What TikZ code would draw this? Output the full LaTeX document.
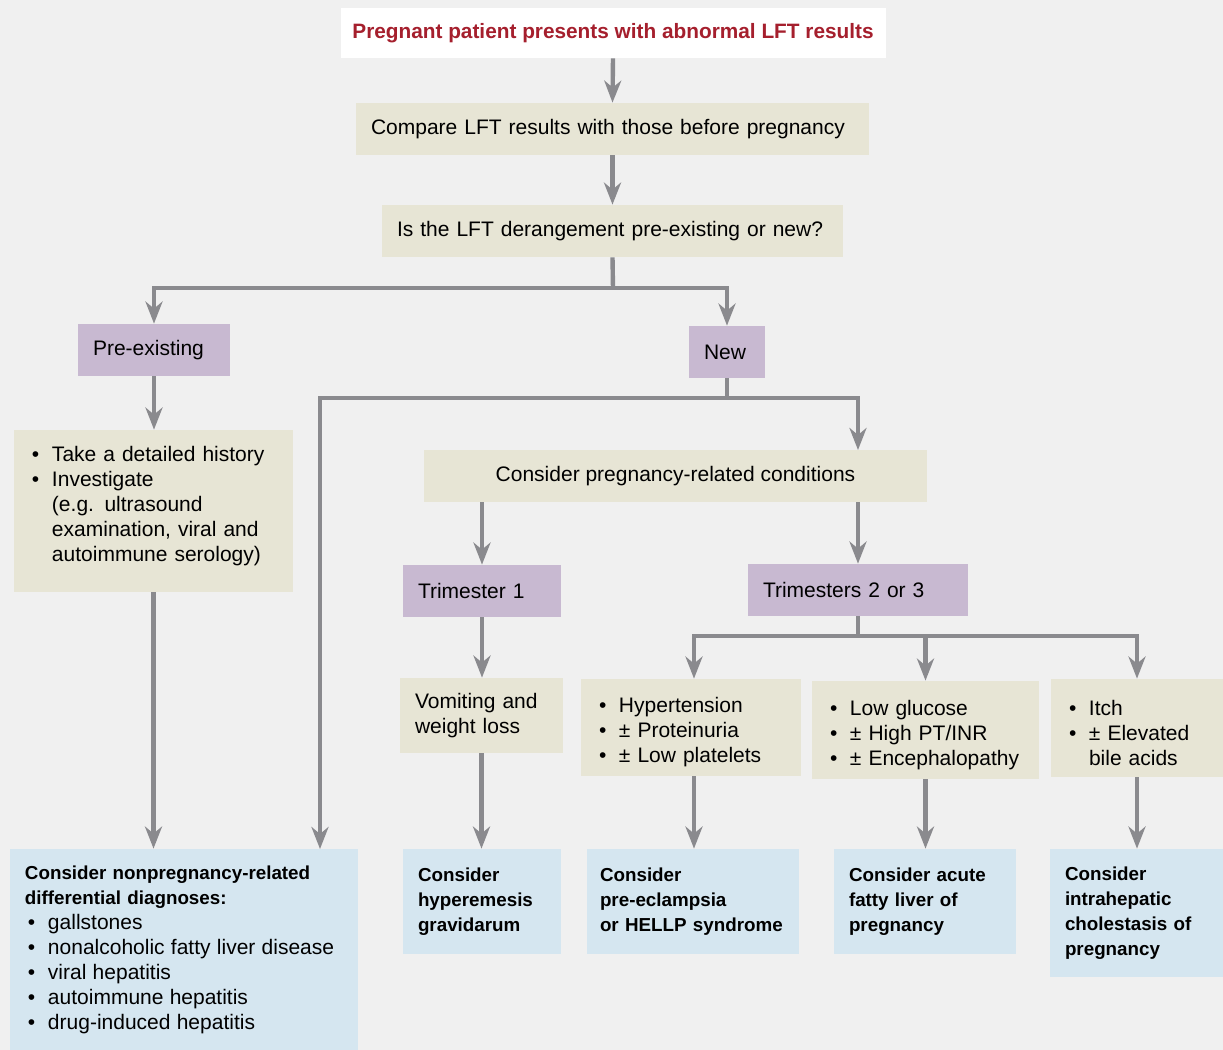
\documentclass[tikz,border=0pt]{standalone}
\usepackage{fontspec}
\setmainfont{Liberation Sans}
\usetikzlibrary{arrows.meta}

\definecolor{bgcol}{HTML}{F0F0F0}
\definecolor{tancol}{HTML}{E7E5D5}
\definecolor{lilaccol}{HTML}{C8B9D1}
\definecolor{bluecol}{HTML}{D5E6F0}
\definecolor{titlered}{HTML}{A51F2D}
\definecolor{linecol}{HTML}{8A8A8E}

\hyphenpenalty=10000
\exhyphenpenalty=10000
\newcommand{\bitem}{\par\hangindent=11.5pt\hangafter=1\noindent\makebox[11.5pt][l]{\hspace{1.5pt}\textbullet}}
\newcommand{\boldtxt}{\fontsize{9.4}{12.5}\selectfont\bfseries}
\newcommand{\plaintxt}{\fontsize{10.5}{12.5}\selectfont\mdseries}

\begin{document}
\begin{tikzpicture}[
                          x=0.5pt, y=-0.5pt,
                          box/.style={rectangle, inner xsep=7.5pt, inner ysep=0pt, align=left, font=\plaintxt},
                          tanbox/.style={box, fill=tancol},
                          lilacbox/.style={box, fill=lilaccol},
                          bluebox/.style={box, fill=bluecol, font=\boldtxt},
                          line/.style={draw=linecol, line width=2.2pt},
                          arrow/.style={line, -{Stealth[length=11pt, width=8.5pt, inset=3.5pt]}},
                      ]
                      \fill[bgcol] (0,0) rectangle (1223,1050);

                      % Nodes
                      \node[box, fill=white, inner xsep=0pt, minimum width=272.5pt, minimum height=25pt, align=center,
                            text=titlered, font=\fontsize{10.4}{12.5}\selectfont\bfseries]
                                                  (start)     at (613,33)       {Pregnant patient presents with abnormal LFT results};
                      \node[tanbox, text width=241.5pt, minimum height=26pt]   (compare)   at (612.5,129)    {Compare LFT results with those before pregnancy};
                      \node[tanbox, text width=215.5pt, minimum height=26pt]   (question)  at (612.5,231)    {Is the LFT derangement pre-existing or new?};

                      \node[lilacbox, text width=61pt, minimum height=26pt]    (preex)     at (154,350)      {Pre-existing};
                      \node[lilacbox, text width=23pt, minimum height=26pt]    (new)       at (727,352)      {New};

                      \node[tanbox, text width=124.5pt, minimum height=81pt]   (history)   at (153.5,511)    {\bitem Take a detailed history\bitem Investigate\newline(e.g. ultrasound\newline examination, viral and\newline autoimmune serology)\rule[-12pt]{0pt}{1pt}\par};
                      \node[tanbox, minimum width=251.5pt, minimum height=26pt, align=center]
                                                  (pregcond)  at (675.5,476)    {Consider pregnancy-related conditions};

                      \node[lilacbox, text width=64pt, minimum height=26pt]    (trim1)     at (482,591)      {Trimester 1};
                      \node[lilacbox, text width=95pt, minimum height=26pt]    (trim23)    at (858,590)      {Trimesters 2 or 3};

                      \node[tanbox, text width=66.5pt, minimum height=37.5pt]  (vomit)     at (481.5,715.5)  {Vomiting and\\weight loss};
                      \node[tanbox, text width=95pt, minimum height=48.5pt]    (hyper)     at (691,727.5)    {\bitem Hypertension\bitem ± Proteinuria\bitem ± Low platelets\par};
                      \node[tanbox, text width=98.5pt, minimum height=49pt]    (glucose)   at (925.5,730)    {\bitem Low glucose\bitem ± High PT/INR\bitem ± Encephalopathy\par};
                      \node[tanbox, text width=71pt, minimum height=49pt]      (itch)      at (1137,728)     {\bitem Itch\bitem ± Elevated\newline bile acids\par};

                      \node[bluebox, text width=159pt, minimum height=100.5pt] (nonpreg)   at (184,949.5)    {Consider nonpregnancy-related\\differential diagnoses:\plaintxt\bitem gallstones\bitem nonalcoholic fatty liver disease\bitem viral hepatitis\bitem autoimmune hepatitis\bitem drug-induced hepatitis\par};
                      \node[bluebox, text width=64pt, minimum height=52.5pt]   (hyperem)   at (482,901.5)    {Consider\\hyperemesis\\gravidarum};
                      \node[bluebox, inner xsep=6.5pt, text width=93pt, minimum height=52.5pt]
                                                  (preecl)    at (693,901.5)    {Consider\\pre-eclampsia\\or HELLP syndrome};
                      \node[bluebox, text width=76pt, minimum height=52.5pt]   (afl)       at (925,901.5)    {Consider acute\\fatty liver of\\pregnancy};
                      \node[bluebox, text width=71.5pt, minimum height=64pt]   (ich)       at (1136.5,913)   {Consider\\intrahepatic\\cholestasis of\\pregnancy};

                      % Junctions
                      \coordinate (split1)    at (613,288);
                      \coordinate (split2)    at (727,398);
                      \coordinate (split3)    at (858,636);
                      \coordinate (nonpregin) at (320,849);
                      \coordinate (pregin)    at (858,450);

                      %Lines
                      \draw[arrow] (start.south) -- (compare.north);
                      \draw[arrow] (compare.south) -- (question.north);
                      \draw[line] (question.south) -- (split1);
                      \draw[arrow] (split1) -| (preex.north);
                      \draw[arrow] (split1) -| (new.north);
                      \draw[arrow] (preex.south) -- (history.north -| preex.south);
                      \draw[arrow] (history.south) -- (history.south |- nonpreg.north);
                      \draw[line] (new.south) -- (split2);
                      \draw[arrow] (split2) -| (nonpregin);
                      \draw[arrow] (split2) -| (pregin);
                      \draw[arrow] (trim1.north |- pregcond.south) -- (trim1.north);
                      \draw[arrow] (trim23.north |- pregcond.south) -- (trim23.north);
                      \draw[arrow] (trim1.south) -- (trim1.south |- vomit.north);
                      \draw[line] (trim23.south) -- (split3);
                      \draw[arrow] (split3) -| ([xshift=1.5pt]hyper.north);
                      \draw[arrow] (split3) -| (glucose.north);
                      \draw[arrow] (split3) -| (itch.north);
                      \draw[arrow] (vomit.south) -- (vomit.south |- hyperem.north);
                      \draw[arrow] ([xshift=1.5pt]hyper.south) -- ([xshift=1.5pt]hyper.south |- preecl.north);
                      \draw[arrow] (glucose.south) -- (glucose.south |- afl.north);
                      \draw[arrow] (itch.south) -- (itch.south |- ich.north);
                  \end{tikzpicture}
\end{document}
